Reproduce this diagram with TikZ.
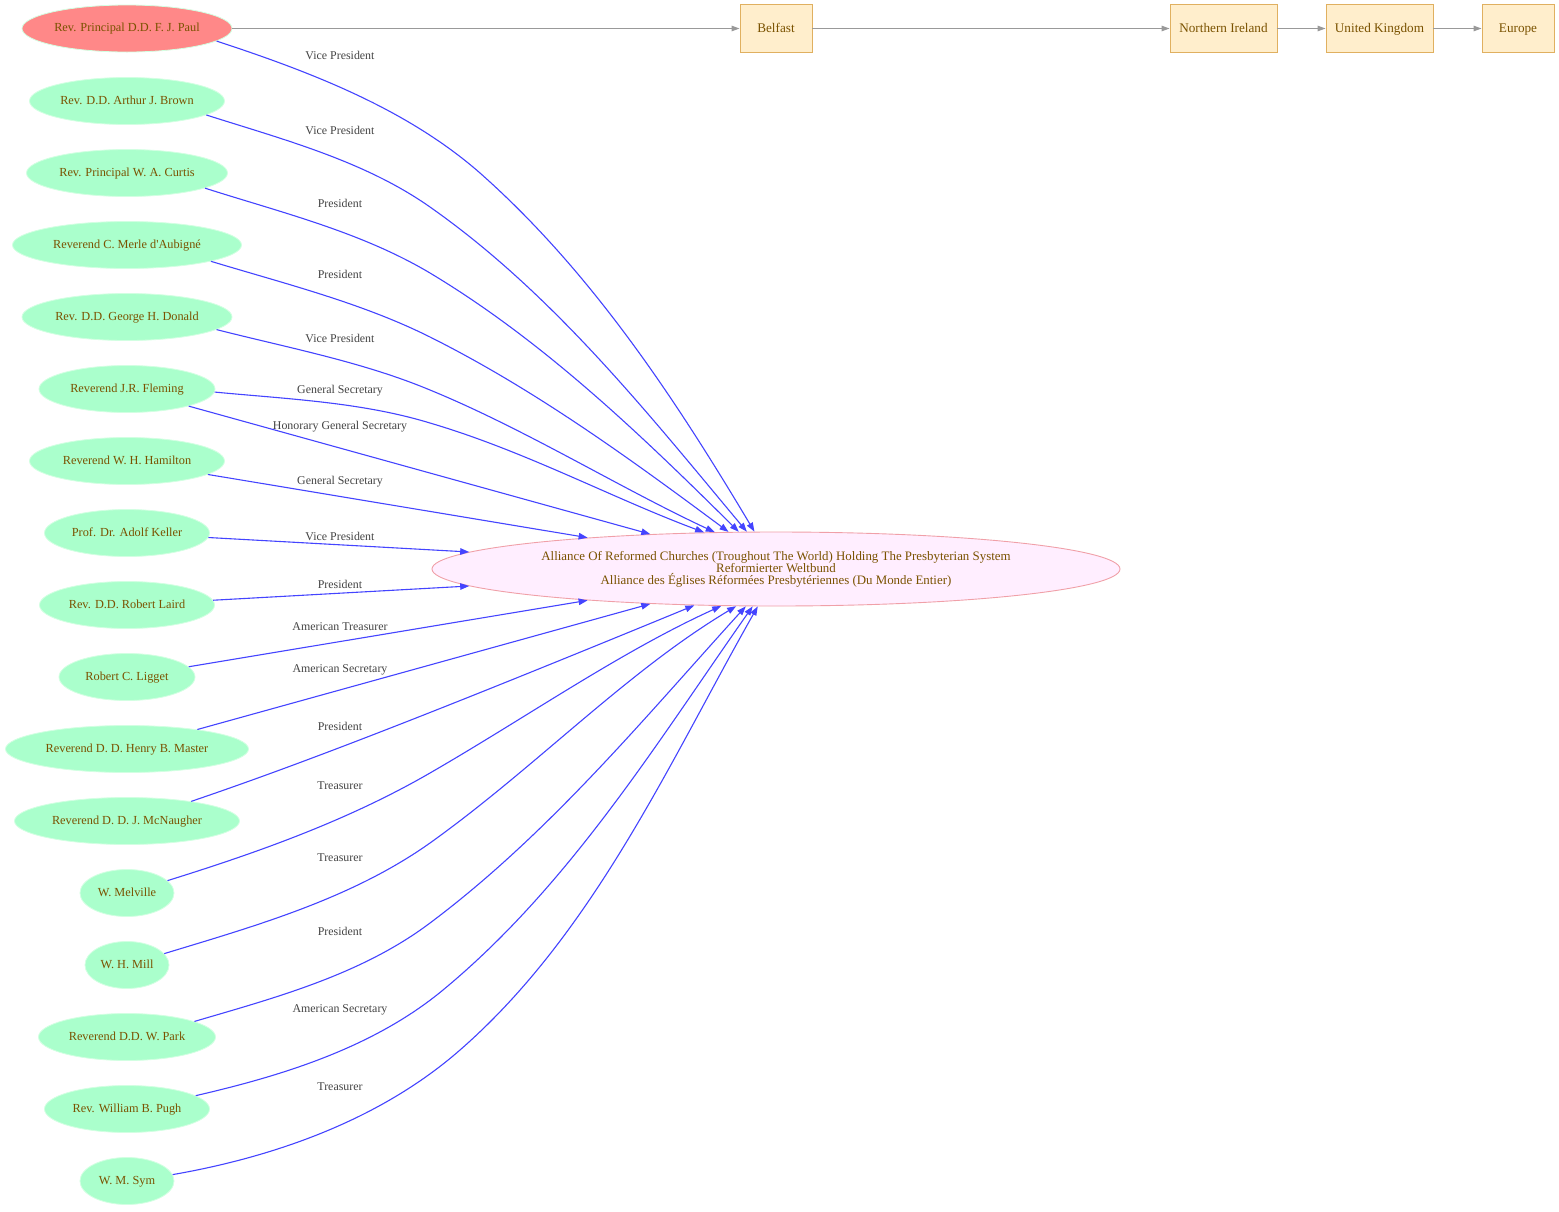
\documentclass[tikz,border=0pt]{standalone}
\usepackage{fontspec}
\setmainfont{Liberation Serif}
\usetikzlibrary{shapes.geometric,arrows.meta}
\definecolor{txt}{HTML}{7A5200}
\definecolor{grn}{HTML}{AAFFCC}
\definecolor{grnb}{HTML}{D2FFE2}
\definecolor{salmon}{HTML}{FF8888}
\definecolor{pinkfill}{HTML}{FFEEFF}
\definecolor{pinkline}{HTML}{F0A0A8}
\definecolor{boxfill}{HTML}{FFEECC}
\definecolor{boxline}{HTML}{E0B060}
\definecolor{edgeblue}{HTML}{4444FF}
\definecolor{edgegray}{HTML}{999999}
\definecolor{lbl}{HTML}{444444}
\newcommand\nodetxt[1]{\makebox[0pt]{#1}}
\newcommand\tightlines{\lineskiplimit=-20pt\relax}
\begin{document}
\begin{tikzpicture}[x=1pt,y=-1pt,
  person/.style={ellipse, fill=grn, draw=grnb, line width=0.8pt, inner sep=0pt,
    minimum height=47pt, text=txt, text height=9pt, text depth=3pt,
    font=\fontsize{12.3}{14}\selectfont},
  rootperson/.style={person, fill=salmon},
  alliancenode/.style={ellipse, fill=pinkfill, draw=pinkline, line width=0.9pt, inner sep=0pt,
    minimum width=688pt, minimum height=74pt, text=txt, align=center,
    font=\fontsize{12.9}{12}\selectfont\tightlines},
  place/.style={rectangle, fill=boxfill, draw=boxline, line width=0.9pt, inner sep=0pt,
    minimum height=48pt, text=txt, text height=9.5pt, text depth=2.5pt,
    font=\fontsize{13.2}{15}\selectfont},
  blueedge/.style={draw=edgeblue, line width=1.1pt, -{Triangle[length=9pt,width=6.5pt]}},
  grayedge/.style={draw=edgegray, line width=1.2pt, -{Triangle[length=8pt,width=5.5pt]}},
  elabel/.style={inner sep=0pt, text=lbl, font=\fontsize{11.9}{13}\selectfont}
]
\useasboundingbox (0,0) rectangle (1559,1211);
\fill[white] (0,0) rectangle (1559,1211);

% people
\node[rootperson, minimum width=210pt] (paul) at (127,28.5) {\nodetxt{Rev. Principal D.D. F. J. Paul}};
\node[person, minimum width=195pt] (brown) at (127,101) {\nodetxt{Rev. D.D. Arthur J. Brown}};
\node[person, minimum width=201pt] (curtis) at (127,173) {\nodetxt{Rev. Principal W. A. Curtis}};
\node[person, minimum width=229pt] (merle) at (127,245) {\nodetxt{Reverend C. Merle d\textquotesingle Aubigné}};
\node[person, minimum width=210pt] (donald) at (127,317) {\nodetxt{Rev. D.D. George H. Donald}};
\node[person, minimum width=176pt] (fleming) at (127,389) {\nodetxt{Reverend J.R. Fleming}};
\node[person, minimum width=195pt] (hamilton) at (127,461) {\nodetxt{Reverend W. H. Hamilton}};
\node[person, minimum width=165pt] (keller) at (127,533) {\nodetxt{Prof. Dr. Adolf Keller}};
\node[person, minimum width=175pt] (laird) at (127,605) {\nodetxt{Rev. D.D. Robert Laird}};
\node[person, minimum width=136pt] (ligget) at (127,677) {\nodetxt{Robert C. Ligget}};
\node[person, minimum width=243pt] (master) at (127,749) {\nodetxt{Reverend D. D. Henry B. Master}};
\node[person, minimum width=225pt] (mcnaugher) at (127,821) {\nodetxt{Reverend D. D. J. McNaugher}};
\node[person, minimum width=94pt] (melville) at (127,893) {\nodetxt{W. Melville}};
\node[person, minimum width=84pt] (mill) at (127,965) {\nodetxt{W. H. Mill}};
\node[person, minimum width=177pt] (park) at (127,1037) {\nodetxt{Reverend D.D. W. Park}};
\node[person, minimum width=165pt] (pugh) at (127,1109) {\nodetxt{Rev. William B. Pugh}};
\node[person, minimum width=94pt] (sym) at (127,1181) {\nodetxt{W. M. Sym}};

% alliance
\node[alliancenode] (all) at (776,569) {Alliance Of Reformed Churches (Troughout The World) Holding The Presbyterian System\\Reformierter Weltbund\\Alliance des Églises Réformées Presbytériennes (Du Monde Entier)};

% places
\node[place, minimum width=72pt] (belfast) at (776,28.5) {Belfast};
\node[place, minimum width=107pt] (ni) at (1223.5,28.5) {Northern Ireland};
\node[place, minimum width=107pt] (uk) at (1379.5,28.5) {United Kingdom};
\node[place, minimum width=72pt] (europe) at (1518,28.5) {Europe};

\draw[grayedge] (paul) -- (belfast);
\draw[grayedge] (belfast) -- (ni);
\draw[grayedge] (ni) -- (uk);
\draw[grayedge] (uk) -- (europe);

% blue edges
\draw[blueedge] (paul.-8.5) .. controls (311,72) and (407,109) .. (480,173) .. controls (593,273) and (677,402) .. (all.120.7);
\draw[blueedge] (brown.-10) .. controls (285,140) and (364.5,161) .. (430,207) .. controls (554,294) and (650,416) .. (all.128.1);
\draw[blueedge] (curtis.-11) .. controls (283,213) and (361,232) .. (430,273) .. controls (545,342) and (643,437) .. (all.135.8);
\draw[blueedge] (merle.-11) .. controls (286,284) and (362,303) .. (430,337) .. controls (536,390) and (633,461) .. (all.142.4);
\draw[blueedge] (donald.-8.3) .. controls (289,348) and (363,362) .. (430,390) .. controls (525,429) and (620,488) .. (all.149.2);
\draw[blueedge] (fleming.-2) .. controls (287,399) and (361,402) .. (430,423) .. controls (525,451) and (612,498) .. (all.153.1);
\draw[blueedge] (fleming) -- (all);
\draw[blueedge] (hamilton) -- (all);
\draw[blueedge] (keller) -- (all);
\draw[blueedge] (laird) -- (all);
\draw[blueedge] (ligget) -- (all);
\draw[blueedge] (master) -- (all);
\draw[blueedge] (mcnaugher.17) .. controls (301,764) and (428,715) .. (all.204.5);
\draw[blueedge] (melville.17) .. controls (256,853) and (347,821) .. (430,773) .. controls (527,717) and (620,652) .. (all.214.4);
\draw[blueedge] (mill.17) .. controls (255,926) and (351,899) .. (430,843) .. controls (535,768) and (626,672) .. (all.223.5);
\draw[blueedge] (park.13) .. controls (274,998) and (361,975) .. (430,923) .. controls (549,834) and (646,716) .. (all.231.9);
\draw[blueedge] (pugh.11) .. controls (281,1076) and (373,1048) .. (443,990) .. controls (570,885) and (658,741) .. (all.238.1);
\draw[blueedge] (sym.8) .. controls (274,1157) and (380,1120) .. (460,1050) .. controls (594,933) and (670,761) .. (all.244.1);

% edge labels
\node[elabel] (l1) at (340,55) {Vice President};
\node[elabel] (l2) at (340,130) {Vice President};
\node[elabel] (l3) at (340,203) {President};
\node[elabel] (l4) at (340,274) {President};
\node[elabel] (l5) at (340,338) {Vice President};
\node[elabel] (l6) at (340,391) {General Secretary};
\node[elabel] (l7) at (340,427) {Honorary General Secretary};
\node[elabel] (l8) at (340,482) {General Secretary};
\node[elabel] (l9) at (340,536) {Vice President};
\node[elabel] (l10) at (340,584) {President};
\node[elabel] (l11) at (340,627) {American Treasurer};
\node[elabel] (l12) at (340,670) {American Secretary};
\node[elabel] (l13) at (340,726) {President};
\node[elabel] (l14) at (340,786) {Treasurer};
\node[elabel] (l15) at (340,858) {Treasurer};
\node[elabel] (l16) at (340,931) {President};
\node[elabel] (l17) at (340,1010) {American Secretary};
\node[elabel] (l18) at (340,1087) {Treasurer};
\end{tikzpicture}
\end{document}
